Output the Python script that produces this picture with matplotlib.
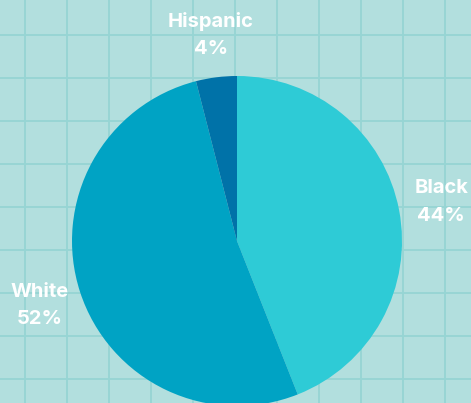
import numpy as np
import matplotlib
matplotlib.use("Agg")
import matplotlib.pyplot as plt

# ethnic breakdown shown in the pie
groups = ["Black", "White", "Hispanic"]
shares = [44, 52, 4]
colors = ["#2ecbd6", "#00a3c4", "#0072a8"]

bg = "#b2dfde"
grid_col = "#96d5d4"

W, H = 471, 403
fig = plt.figure(figsize=(W / 100, H / 100), dpi=100, facecolor=bg)
ax = fig.add_axes([0, 0, 1, 1])
ax.set_facecolor(bg)

labels = [f"{g}\n{v}%" for g, v in zip(groups, shares)]
wedges, texts = ax.pie(shares, colors=colors, labels=labels, startangle=90,
                       counterclock=False, center=(237, H - 241), radius=165,
                       labeldistance=1.26, frame=True,
                       wedgeprops=dict(linewidth=0),
                       textprops=dict(color="white", fontsize=14.5,
                                      fontweight="bold", family="Inter",
                                      linespacing=1.65))
for t in texts:
    t.set_ha("center")
    t.set_va("center")

# graph-paper background
ax.set_xticks(np.arange(25, W, 42))
ax.set_yticks(np.arange(H - 35, 0, -43))
ax.grid(True, color=grid_col, lw=1.3)
ax.set_axisbelow(True)
ax.tick_params(length=0, labelbottom=False, labelleft=False)
for s in ax.spines.values():
    s.set_visible(False)

ax.set_xlim(0, W)
ax.set_ylim(0, H)
ax.set_aspect("equal")

fig.savefig("out.png", dpi=100, facecolor=bg)
